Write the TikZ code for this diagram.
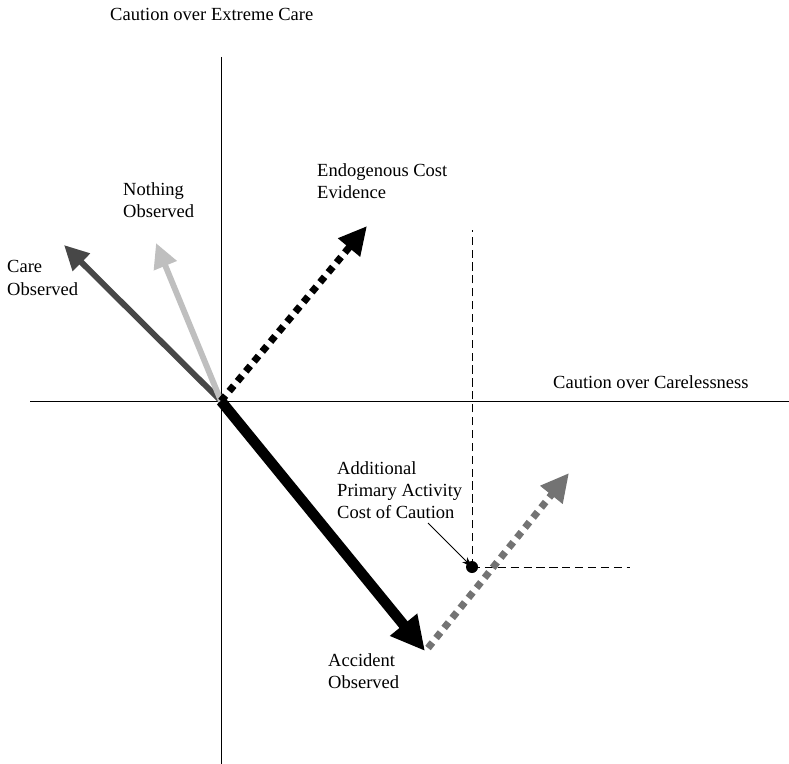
\documentclass[tikz,border=0pt]{standalone}
\usepackage{fontspec}
\setmainfont{Liberation Serif}
\usetikzlibrary{arrows.meta}

\begin{document}
\begin{tikzpicture}[
    x=0.03cm,y=-0.03cm,
    lbl/.style={inner sep=0pt,align=left,anchor=west,
                font=\fontsize{15.8}{19}\selectfont},
    axis/.style={line width=0.8pt},
    guide/.style={line width=0.7pt,dash pattern=on 7pt off 4pt},
    vec/.style={line width=5pt,-{Triangle[length=21pt,width=20pt]}},
    dotvec/.style={line width=6pt,dash pattern=on 6pt off 5pt,
                   -{Triangle[length=24pt,width=23pt]}}]
\useasboundingbox (0,0) rectangle (789,764);

% axes
\coordinate (O)   at (221,401);
\coordinate (top) at (221,57);
\coordinate (bot) at (221,764);
\coordinate (lft) at (30,401);
\coordinate (rgt) at (789,401);
\draw[axis] (top) -- (bot);
\draw[axis] (lft) -- (rgt);
\node[lbl] (yax) at (110,14) {Caution over Extreme Care};
\node[lbl] (xax) at (553,382) {Caution over Carelessness};

% vector tips
\coordinate (care)  at (64,245);
\coordinate (noth)  at (156,243);
\coordinate (endo)  at (367,226);
\coordinate (acc)   at (425,651);
\coordinate (accst) at (428,648);
\coordinate (extra) at (569,473);
\coordinate (pt)    at (472,567);

% guide lines through the point
\coordinate (ptup) at (472,230);
\coordinate (ptrt) at (630,567);
\draw[guide] (pt) -- (ptup);
\draw[guide] (pt) -- (ptrt);

\draw[vec,color=black!72] (O) -- (care);
\draw[vec,color=black!25] (O) -- (noth);
\draw[dotvec,color=black] (O) -- (endo);
\draw[dotvec,color=black!55] (accst) -- (extra);
\draw[line width=9pt,-{Triangle[length=29pt,width=28pt]}] (O) -- (acc);

\fill (pt) circle (6);

% labels
\node[lbl] (carel) at (7,278)   {Care\\Observed};
\node[lbl] (nothl) at (123,200) {Nothing\\Observed};
\node[lbl] (endol) at (317,181) {Endogenous Cost\\Evidence};
\node[lbl] (accl)  at (328,671) {Accident\\Observed};
\node[lbl] (addl)  at (337,490) {Additional\\Primary Activity\\Cost of Caution};

\coordinate (ptr) at (428,523);
\draw[line width=0.8pt,-{Stealth[length=9pt,width=6pt]}] (ptr) -- (pt);
\end{tikzpicture}
\end{document}
